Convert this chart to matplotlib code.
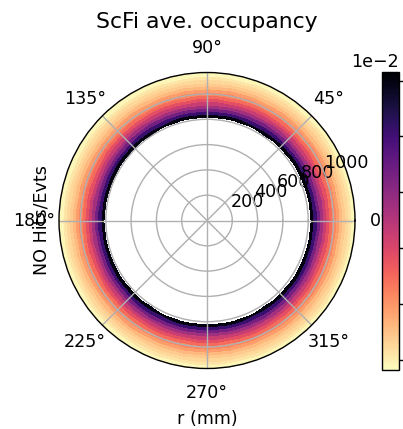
import numpy as np
import matplotlib
matplotlib.use("Agg")
from matplotlib import pyplot as plt

# ring edges of the fibre tracker (mm) and average occupancy per ring
r_edges = [820, 845, 870, 895, 920, 945, 970, 995, 1020, 1045, 1070, 1095, 1120, 1145, 1170]
ring_occ = [0.0120, 0.0102, 0.0087, 0.0075, 0.0065, 0.0057, 0.0049,
            0.0043, 0.0038, 0.0032, 0.0028, 0.0025, 0.0022, 0.0018]
cbar_ticks = [0.002, 0.004, 0.006, 0.008, 0.010, 0.012]
occ_min, occ_max = 0.00163, 0.01231

n_phi = 72
phi_edges = np.linspace(0, 2 * np.pi, n_phi + 1)
occ = np.tile(np.array(ring_occ)[:, None], (1, n_phi))

fig = plt.figure(figsize=(403 / 126, 429 / 126), dpi=126)
ax = fig.add_axes([0.1464, 0.141, 0.7345, 0.690], projection='polar')

mesh = ax.pcolormesh(phi_edges, np.array(r_edges), occ, cmap='magma_r',
                     vmin=occ_min, vmax=occ_max, antialiased=False,
                     edgecolors='face', linewidth=0.3)
ax.set_rlim(0, 1170)
ax.grid(True)

ax.set_title("ScFi ave. occupancy", y=1.150, pad=0, fontsize=12.5)
ax.set_xlabel("r (mm)")
ax.xaxis.set_label_coords(0.5, -0.14)
ax.set_ylabel("NO Hits/Evts")
ax.yaxis.set_label_coords(-0.03, 0.5)

cax = fig.add_axes([0.948, 0.1375, 0.042, 0.695])
cbar = fig.colorbar(mesh, cax=cax)
cbar.set_ticks(cbar_ticks)
cbar.formatter.set_powerlimits((0, 0))
cbar.update_ticks()

fig.savefig("out.png", dpi=126)
